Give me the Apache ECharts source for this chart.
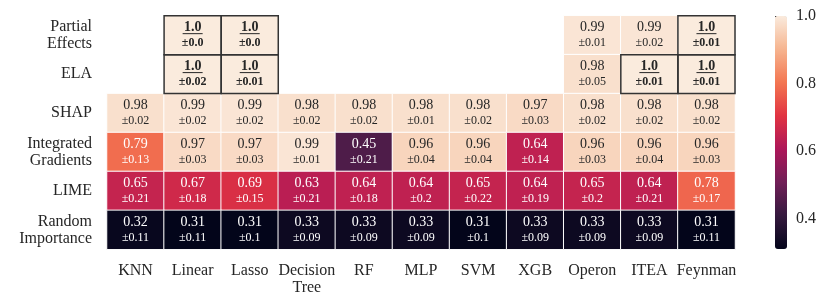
<!DOCTYPE html>
<html>
<head>
<meta charset="utf-8">
<script src="https://cdn.jsdelivr.net/npm/echarts@6/dist/echarts.min.js"></script>
<style>html,body{margin:0;padding:0;background:#fff}#c{width:831px;height:306px}</style>
</head>
<body>
<div id="c"></div>
<script>
const methods = ['Partial\nEffects', 'ELA', 'SHAP', 'Integrated\nGradients', 'LIME', 'Random\nImportance'];
const models = ['KNN', 'Linear', 'Lasso', 'Decision\nTree', 'RF', 'MLP', 'SVM', 'XGB', 'Operon', 'ITEA', 'Feynman'];

const partialEffectsMean = [null, 1.0, 1.0, null, null, null, null, null, 0.99, 0.99, 1.0];
const partialEffectsStd  = [null, 0.0, 0.0, null, null, null, null, null, 0.01, 0.02, 0.01];
const elaMean = [null, 1.0, 1.0, null, null, null, null, null, 0.98, 1.0, 1.0];
const elaStd  = [null, 0.02, 0.01, null, null, null, null, null, 0.05, 0.01, 0.01];
const shapMean = [0.98, 0.99, 0.99, 0.98, 0.98, 0.98, 0.98, 0.97, 0.98, 0.98, 0.98];
const shapStd  = [0.02, 0.02, 0.02, 0.02, 0.02, 0.01, 0.02, 0.03, 0.02, 0.02, 0.02];
const igMean = [0.79, 0.97, 0.97, 0.99, 0.45, 0.96, 0.96, 0.64, 0.96, 0.96, 0.96];
const igStd  = [0.13, 0.03, 0.03, 0.01, 0.21, 0.04, 0.04, 0.14, 0.03, 0.04, 0.03];
const limeMean = [0.65, 0.67, 0.69, 0.63, 0.64, 0.64, 0.65, 0.64, 0.65, 0.64, 0.78];
const limeStd  = [0.21, 0.18, 0.15, 0.21, 0.18, 0.2, 0.22, 0.19, 0.2, 0.21, 0.17];
const randomMean = [0.32, 0.31, 0.31, 0.33, 0.33, 0.33, 0.31, 0.33, 0.33, 0.33, 0.31];
const randomStd  = [0.11, 0.11, 0.1, 0.09, 0.09, 0.09, 0.1, 0.09, 0.09, 0.09, 0.11];

const colorbarTicks = [0.4, 0.6, 0.8, 1.0];
const vMin = 0.31, vMax = 1.0;

const rowMeans = [partialEffectsMean, elaMean, shapMean, igMean, limeMean, randomMean];
const rowStds = [partialEffectsStd, elaStd, shapStd, igStd, limeStd, randomStd];

const FONT = 'Liberation Serif';
const rocket = ['#03051a', '#35193e', '#701f57', '#ad1759', '#e13342', '#f37651', '#f6b48f', '#faebdd'];

function fmt(v) { return Number.isInteger(v) ? v.toFixed(1) : String(v); }

const heatData = [];
const bestData = [];
rowMeans.forEach((row, yi) => {
  row.forEach((v, xi) => {
    if (v === null) return;
    heatData.push([xi, yi, v, rowStds[yi][xi]]);
    if (v === 1.0) bestData.push([xi, yi, v]);
  });
});

const chart = echarts.init(document.getElementById('c'));
const dark = '#262626';
chart.setOption({
  animation: false,
  grid: [
    { left: 107, right: 96, top: 15.7, bottom: 56.7 },
    { left: 775, width: 12, top: 16, height: 233 }
  ],
  xAxis: [
    { type: 'category', data: models, gridIndex: 0,
      axisLine: { show: false }, axisTick: { show: false }, splitLine: { show: false },
      axisLabel: { interval: 0, fontSize: 16, color: dark, margin: 13, lineHeight: 17, fontFamily: FONT } },
    { type: 'value', gridIndex: 1, show: false }
  ],
  yAxis: [
    { type: 'category', data: methods, inverse: true, gridIndex: 0,
      axisLine: { show: false }, axisTick: { show: false }, splitLine: { show: false },
      axisLabel: { interval: 0, fontSize: 16, color: dark, margin: 15, lineHeight: 17, align: 'right', fontFamily: FONT } },
    { type: 'value', gridIndex: 1, min: vMin, max: vMax, position: 'right',
      axisLine: { show: true, lineStyle: { color: 'rgba(0,0,0,0)' } }, splitLine: { show: false },
      axisTick: { show: true, length: 5, customValues: colorbarTicks, lineStyle: { color: dark, width: 1 } },
      axisLabel: { customValues: colorbarTicks, formatter: v => v.toFixed(1), fontSize: 16, color: dark, margin: 9, fontFamily: FONT } }
  ],
  visualMap: {
    type: 'continuous', min: vMin, max: vMax, seriesIndex: 0, dimension: 2,
    calculable: false, orient: 'vertical', left: 775, top: 16, padding: 0,
    itemWidth: 12, itemHeight: 233, text: null, showLabel: false,
    inRange: { color: rocket }
  },
  series: [
    {
      type: 'heatmap', data: heatData, xAxisIndex: 0, yAxisIndex: 0,
      itemStyle: { borderColor: '#fff', borderWidth: 1 },
      emphasis: { disabled: true },
      label: {
        show: true, fontFamily: FONT,
        formatter: p => {
          const v = p.data[2], s = p.data[3];
          if (v === 1.0) return '{vb|' + fmt(v) + '}\n{sb|±' + fmt(s) + '}';
          const light = v < 0.85;
          return '{' + (light ? 'vl' : 'vd') + '|' + fmt(v) + '}\n{' + (light ? 'sl' : 'sd') + '|±' + fmt(s) + '}';
        },
        rich: {
          vd: { fontSize: 14, color: dark, lineHeight: 16, fontFamily: FONT },
          vl: { fontSize: 14, color: '#fff', lineHeight: 16, fontFamily: FONT },
          vb: { fontSize: 14, color: dark, lineHeight: 16, fontWeight: 'bold', fontFamily: FONT },
          sd: { fontSize: 12, color: dark, lineHeight: 16, fontFamily: FONT },
          sl: { fontSize: 12, color: '#fff', lineHeight: 16, fontFamily: FONT },
          sb: { fontSize: 12, color: dark, lineHeight: 16, fontWeight: 'bold', fontFamily: FONT }
        }
      }
    },
    {
      type: 'custom', data: bestData, xAxisIndex: 0, yAxisIndex: 0, z: 5, silent: true,
      renderItem: (params, api) => {
        const c = api.coord([api.value(0), api.value(1)]);
        const s = api.size([1, 1]);
        return { type: 'group', children: [
          { type: 'rect', shape: { x: c[0] - s[0] / 2, y: c[1] - s[1] / 2, width: s[0], height: s[1] },
            style: { fill: 'none', stroke: '#333', lineWidth: 1.5 } },
          { type: 'line', shape: { x1: c[0] - 10, y1: c[1] - 1.5, x2: c[0] + 10, y2: c[1] - 1.5 },
            style: { stroke: dark, lineWidth: 1 } }
        ] };
      }
    }
  ]
});
</script>
</body>
</html>
